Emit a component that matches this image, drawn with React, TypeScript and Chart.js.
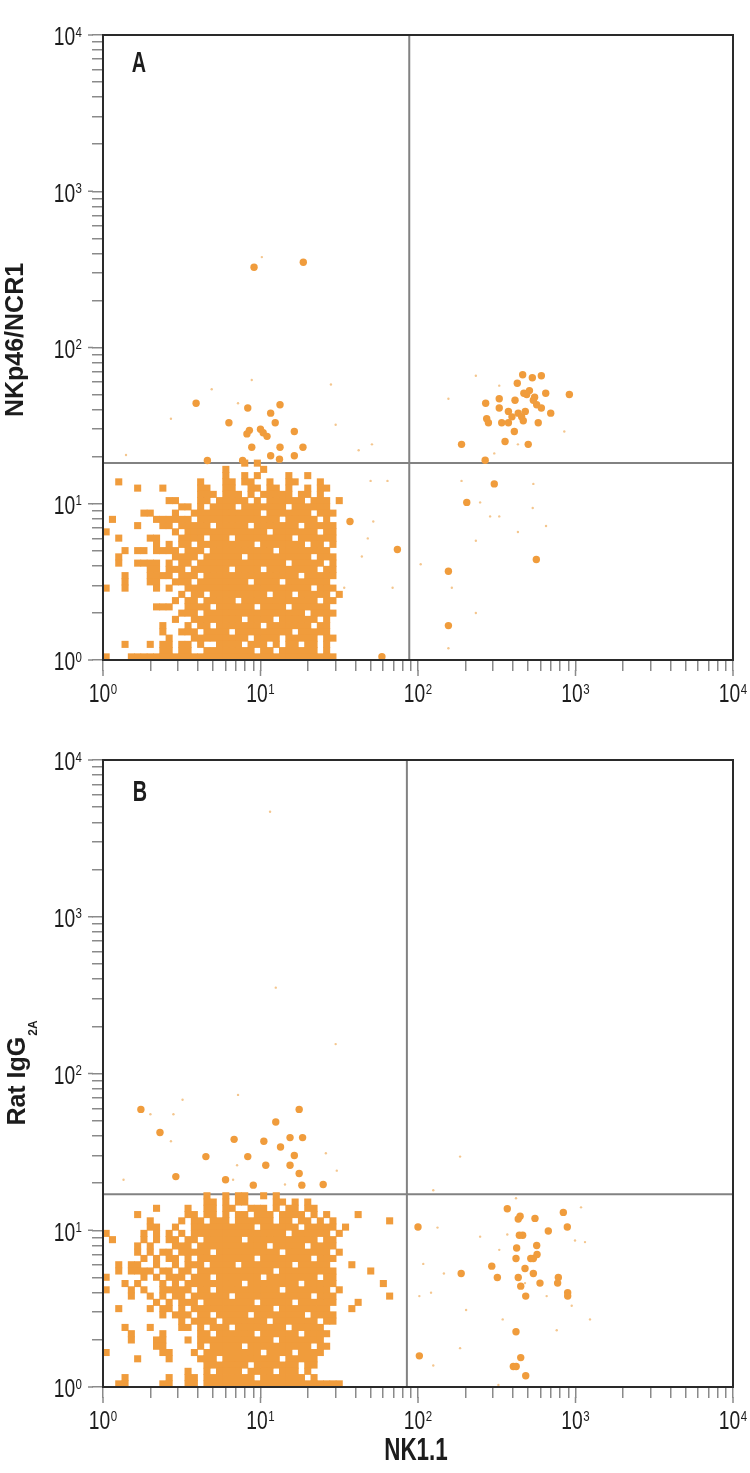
import React, { useEffect, useRef } from "react";
import { Chart, registerables } from "chart.js";

Chart.register(...registerables);

// ---------- styling constants ----------
const ORANGE = "#F09C3C";
const SPECK = "#F4C68E";
const FONT = "'Liberation Sans', Arial, sans-serif";

// ---------- axis ticks ----------
const DECADES = [1, 10, 100, 1000];
const MINOR_STEPS = [1, 2, 3, 4, 5, 6, 7, 8, 9];
const AXIS_MIN = 1;
const AXIS_MAX = 10000;
const TICK_VALUES: number[] = [];
DECADES.forEach((d) => MINOR_STEPS.forEach((m) => TICK_VALUES.push(m * d)));
TICK_VALUES.push(AXIS_MAX);

// ---------- density maps ----------
// each '#' is one occupied cell of CELL decades (x: columns, y: rows, top row first)
const CELL = 0.04;

const GRID_A = [
  ".......... .......... ..#.#..... ..........",
  ".......... .........# .....#.... ..........",
  ".......... .........# ..#.#....# ..#.......",
  "..#....... .....#...# #.##..#..# #...#.....",
  ".....#...# .....##..# #..##.##.# ..#.##....",
  ".......... .....###.# ##.#.##### .##.#.....",
  ".......... ##...##.## ###.#.#### ##.###.#..",
  ".......... ..##.#.### #.#######. ######....",
  "......##.. .#..###### #####.#### ###.###...",
  ".#......## ####.##### ########.# ####.#....",
  ".....#...# #.#####.## ###.###### #.#####...",
  "#......... .#.####### ######.### ####.##...",
  "..#....##. ..####.### .######### .######...",
  "........#. #.##.##### ####.##### ##.##.#...",
  "...#.##.## ##.###.### #######.## ######....",
  "..#....... .####.#### ##.####### ###.###...",
  "..#..####. #.##.##### #########. #####.#...",
  ".......##. ###.###### .####.#### ####.##...",
  "...#...### #.###.#### ########## #.#####...",
  "...#...##. .###.##### ###.####.# ######....",
  "#..#....#. #..####### ########## ###.###...",
  ".......... ..#.##.### ######.### .#####.#..",
  ".......... .#.##.#### #.######## ####.##...",
  "........## #..####.## ####.####. ######....",
  ".......... ..###.#### ########## ##.####...",
  ".......... .#..###### ##.####.## ####.#....",
  ".........# ...#.##.## #####.#### ###.##....",
  ".........# ..###.#### .######### .#####....",
  ".......... #...###### ###.####.# ####.##...",
  "...#...#.# #.##.#..## ##.###.#.# #.##.#....",
  ".........# #.##..#### ####.##.## ####.#....",
  "#...###### ########## ########## #######...",
];

const GRID_B = [
  ".......... ......#..# .##..#.#.. .......... ......",
  ".......... ......##.# .##....##. #.#....... ......",
  "........#. ...#..##.# #..###.#.# #.##...... ......",
  ".....#.... ...##.##.# .##.###.## ##.#.#.... #.....",
  ".......#.. ..#.##.### .######.## .##.#.#... .....#",
  ".......##. .#..###### ####.##### #.#####.#. ......",
  "#.....#.#. #.#.###### #########. ######.#.. ......",
  ".#....#.#. ##.##.#### ##.####### ####.##... ......",
  ".....#.#.. .###.##### ######.### ##.####... ......",
  ".....#.#.# #.#####.## ########.# ######.#.. ......",
  "......#.#. ##.#.##### ####.##### ###.###... ......",
  "..#.##..#. .#.###.### #.######## .#####...# ......",
  "..#.####.# #.##.##### #######.## #######... ..#...",
  "#.....#.#. ###.###.## #####.#### ####.##... ......",
  "...#.#...# .#.####### ##.####### #.#####... ....#.",
  "#...#.#..# ####.##.## ########.# ######.#.. ......",
  "....#..#.# .##.###### .######### ###.###... .....#",
  "........#. #.###.#### ####.##### .######... #.....",
  "..#....#.# #.#.###### #######.## ######...# ......",
  ".........# .###.##.## ###.###### ##.####... ......",
  ".......... ..#.####.# ######.### ####.##... ......",
  "...#...#.. ..##.#.### .########. #####..... ......",
  "....#....# .....##.## ####.##### #.####.... ......",
  "....#...## ...#.##### #######.## #####..... ......",
  "........## .....#.### ##.####### ###.##.... ......",
  "#........# #...#.#### #####.#### .####..... ......",
  ".....#.... #....###.# ########.# ####...... ......",
  ".......... ......#### ###.###### #.##...... ......",
  ".......... ...#..#.## ##.####.## #.#....... ......",
  "...#...... #..##.#### ####.##### ##.#...... ......",
  "..##.....# #..##.#### ########## ########.. ......",
];

// ---------- isolated events [x, y] ----------
const DOTS_A: number[][] = [
  [18.7, 351], [9.1, 326], [3.9, 44], [8.3, 41], [13.3, 43], [11.6, 38],
  [6.3, 33], [12.4, 33], [8.2, 28], [8.5, 29.5], [10, 30], [10.4, 28.5],
  [11, 27], [16.4, 29], [8.8, 23], [13.2, 19.3], [16.4, 20.3], [4.6, 18.9],
  [13.3, 23], [18.6, 23], [11.6, 20.3], [7.7, 18.9],
  [462, 67], [532, 64], [607, 66], [427, 59], [490, 50], [470, 51], [540, 46],
  [567, 43], [647, 51], [914, 50], [269, 44], [413, 46], [328, 41], [375, 39],
  [433, 38], [455, 36], [607, 41], [696, 38], [273, 35], [280, 33], [375, 33],
  [340, 33], [466, 34], [580, 33], [409, 29], [189, 24], [357, 25], [501, 24],
  [267, 19], [305, 13.4], [204, 10.2], [564, 4.4], [156, 3.7], [156, 1.66],
  [328, 47], [37, 7.7], [59, 1.05], [74, 5.1], [510, 53], [550, 48], [395, 36],
  [480, 39],
];

const SPECKS_A: number[][] = [
  [10.2, 379], [8.8, 62], [28, 58], [4.9, 54], [7.2, 44], [2.7, 35], [30, 32],
  [42, 22], [51, 24], [1.4, 20.5], [233, 66], [156, 47], [328, 57], [849, 29],
  [431, 24], [305, 21], [189, 14], [540, 13.4], [287, 8.3], [328, 8.3],
  [104, 4.1], [233, 5.8], [233, 2.0], [164, 2.9], [431, 6.6], [650, 7.2],
  [535, 9.4], [156, 1.19], [248, 10.2], [50, 14], [64, 14], [69, 2.9],
  [34, 2.9], [48, 6], [52, 7.7], [44, 4.6],
];

const DOTS_B: number[][] = [
  [17.6, 59], [12.5, 49], [2.3, 42], [6.8, 38], [10.5, 37], [13.4, 34],
  [18.5, 39], [15.4, 39], [4.5, 29.5], [8.3, 29.5], [16.4, 30], [10.8, 26],
  [15.4, 26], [17.6, 23], [2.9, 22], [6.0, 21], [9.0, 19.4], [18.3, 19.4],
  [25, 19.6], [1.74, 59],
  [369, 13.7], [433, 11.8], [445, 12.3], [553, 11.9], [837, 13], [887, 10.5],
  [672, 9.9], [100, 10.5], [462, 9.3], [440, 9.3], [423, 7.7], [567, 8.0],
  [540, 6.6], [520, 6.6], [570, 7.0], [419, 6.6], [294, 5.9], [478, 5.7],
  [188, 5.3], [540, 5.3], [319, 5.0], [433, 5.0], [778, 5.0], [770, 4.6],
  [595, 4.6], [449, 4.4], [892, 4.0], [892, 3.8], [483, 3.8], [419, 2.25],
  [102, 1.58], [449, 1.54], [403, 1.35], [420, 1.35], [483, 1.18],
];

const SPECKS_B: number[][] = [
  [11.5, 4680], [12.5, 353], [30, 154], [3.2, 68], [7.2, 73], [2.0, 55],
  [2.8, 55], [2.7, 37], [26, 31], [7.1, 26], [30.5, 24], [6.7, 21], [1.35, 21],
  [14.3, 19.6], [185, 29.5], [125, 18], [419, 16], [1084, 14], [133, 10.4],
  [248, 9.1], [369, 9.4], [993, 8.6], [1149, 8.4], [328, 7.5], [108, 6.1],
  [146, 5.3], [478, 4.6], [121, 4.0], [102, 3.8], [656, 3.8], [946, 3.3],
  [202, 3.1], [345, 2.7], [1236, 2.7], [760, 2.3], [185, 1.77], [125, 1.37],
  [324, 1.03],
];

// quadrant gates
const QUAD_A_X = 88;
const QUAD_A_Y = 18.2;
const QUAD_B_X = 85;
const QUAD_B_Y = 17;

// ---------- panel layout ----------
type PanelDef = {
  letter: string;
  yTitle: string;
  ySub: string;
  xTitle: string;
  grid: string[];
  gridWidths: number[];
  dots: number[][];
  specks: number[][];
  quadX: number;
  quadY: number;
  top: number;
  height: number;
  padding: { left: number; right: number; top: number; bottom: number };
  yTitleX: number;
  yTitleY: number;
  letterX: number;
  letterY: number;
  xTitleX: number;
  xTitleY: number;
};

const PANEL_A: PanelDef = {
  letter: "A",
  yTitle: "NKp46/NCR1",
  ySub: "",
  xTitle: "",
  grid: GRID_A,
  gridWidths: [10, 10, 10, 10],
  dots: DOTS_A,
  specks: SPECKS_A,
  quadX: QUAD_A_X,
  quadY: QUAD_A_Y,
  top: 0,
  height: 720,
  padding: { left: 103, right: 17, top: 35, bottom: 60 },
  yTitleX: 14,
  yTitleY: 340,
  letterX: 139,
  letterY: 61,
  xTitleX: 0,
  xTitleY: 0,
};

const PANEL_B: PanelDef = {
  letter: "B",
  yTitle: "Rat IgG",
  ySub: "2A",
  xTitle: "NK1.1",
  grid: GRID_B,
  gridWidths: [10, 10, 10, 10, 6],
  dots: DOTS_B,
  specks: SPECKS_B,
  quadX: QUAD_B_X,
  quadY: QUAD_B_Y,
  top: 720,
  height: 753,
  padding: { left: 103, right: 17, top: 40, bottom: 86 },
  yTitleX: 16,
  yTitleY: 353,
  letterX: 140,
  letterY: 70,
  xTitleX: 416,
  xTitleY: 728,
};

// ---------- helpers ----------
function gridToPoints(rows: string[], widths: number[]) {
  const pts: { x: number; y: number }[] = [];
  const n = rows.length;
  rows.forEach((row, i) => {
    const r = n - 1 - i;
    const groups = row.trim().split(/\s+/);
    let line = "";
    widths.forEach((w, g) => {
      line += (groups[g] || "").padEnd(w, ".").slice(0, w);
    });
    for (let c = 0; c < line.length; c++) {
      if (line[c] === "#") {
        pts.push({ x: Math.pow(10, (c + 0.5) * CELL), y: Math.pow(10, (r + 0.5) * CELL) });
      }
    }
  });
  return pts;
}

function widthOf(ctx: CanvasRenderingContext2D, text: string, font: string, sx: number) {
  ctx.save();
  ctx.font = font;
  const w = ctx.measureText(text).width * sx;
  ctx.restore();
  return w;
}

function drawScaled(
  ctx: CanvasRenderingContext2D,
  text: string,
  x: number,
  baseline: number,
  font: string,
  sx: number
) {
  ctx.save();
  ctx.font = font;
  ctx.translate(x, baseline);
  ctx.scale(sx, 1);
  ctx.textAlign = "left";
  ctx.textBaseline = "alphabetic";
  ctx.fillText(text, 0, 0);
  ctx.restore();
}

const LABEL_SIZE = 26;
const SUP_SIZE = 14;

function drawPower(
  ctx: CanvasRenderingContext2D,
  exp: string,
  anchorX: number,
  centerY: number,
  align: "center" | "right"
) {
  const bigFont = `${LABEL_SIZE}px ${FONT}`;
  const supFont = `${SUP_SIZE}px ${FONT}`;
  const sxBig = 0.74;
  const sxSup = 0.82;
  const w1 = widthOf(ctx, "10", bigFont, sxBig);
  const w2 = widthOf(ctx, exp, supFont, sxSup);
  const total = w1 + 0.5 + w2;
  const left = align === "center" ? anchorX - total / 2 : anchorX - total;
  const cap = LABEL_SIZE * 0.716;
  const base = centerY + cap / 2;
  drawScaled(ctx, "10", left, base, bigFont, sxBig);
  drawScaled(ctx, exp, left + w1 + 0.5, base - cap + SUP_SIZE * 0.716, supFont, sxSup);
}

function isDecade(v: number) {
  const l = Math.log10(v);
  return Math.abs(l - Math.round(l)) < 1e-9;
}

function makeChart(canvas: HTMLCanvasElement, panel: PanelDef) {
  const gridPts = gridToPoints(panel.grid, panel.gridWidths);
  const dots = panel.dots.map(([x, y]) => ({ x, y }));
  const specks = panel.specks.map(([x, y]) => ({ x, y }));

  const decorations = {
    id: "decorations",
    beforeDatasetsDraw(chart: any) {
      const { ctx, chartArea: a, scales } = chart;
      const qx = scales.x.getPixelForValue(panel.quadX);
      const qy = scales.y.getPixelForValue(panel.quadY);
      ctx.save();
      ctx.strokeStyle = "#828282";
      ctx.lineWidth = 2;
      ctx.beginPath();
      ctx.moveTo(qx, a.top);
      ctx.lineTo(qx, a.bottom);
      ctx.moveTo(a.left, qy);
      ctx.lineTo(a.right, qy);
      ctx.stroke();
      ctx.restore();
    },
    afterDraw(chart: any) {
      const { ctx, chartArea: a, scales } = chart;
      ctx.save();

      // longer marks at the decades
      ctx.strokeStyle = "#8a8a8a";
      ctx.lineWidth = 1.5;
      ctx.beginPath();
      scales.x.ticks.forEach((t: any) => {
        if (!isDecade(t.value)) return;
        const px = scales.x.getPixelForValue(t.value);
        ctx.moveTo(px, a.bottom + 10);
        ctx.lineTo(px, a.bottom + 16);
      });
      scales.y.ticks.forEach((t: any) => {
        if (!isDecade(t.value)) return;
        const py = scales.y.getPixelForValue(t.value);
        ctx.moveTo(a.left - 10, py);
        ctx.lineTo(a.left - 15, py);
      });
      ctx.stroke();

      // frame
      ctx.strokeStyle = "#2a2a2a";
      ctx.lineWidth = 2;
      ctx.strokeRect(a.left, a.top, a.right - a.left, a.bottom - a.top);

      ctx.fillStyle = "#1c1c1c";
      // tick labels
      scales.x.ticks.forEach((t: any) => {
        if (!isDecade(t.value)) return;
        const px = scales.x.getPixelForValue(t.value);
        drawPower(ctx, String(Math.round(Math.log10(t.value))), px, a.bottom + 33, "center");
      });
      scales.y.ticks.forEach((t: any) => {
        if (!isDecade(t.value)) return;
        const py = scales.y.getPixelForValue(t.value);
        drawPower(ctx, String(Math.round(Math.log10(t.value))), 82, py + 1, "right");
      });

      // y title (rotated)
      const mainFont = `bold 25px ${FONT}`;
      const subFont = `bold 12px ${FONT}`;
      const w1 = widthOf(ctx, panel.yTitle, mainFont, 1);
      const w2 = panel.ySub ? widthOf(ctx, panel.ySub, subFont, 1) : 0;
      const total = w1 + (panel.ySub ? w2 + 1 : 0);
      ctx.save();
      ctx.translate(panel.yTitleX, panel.yTitleY);
      ctx.rotate(-Math.PI / 2);
      const base = (25 * 0.716) / 2;
      drawScaled(ctx, panel.yTitle, -total / 2, base, mainFont, 1);
      if (panel.ySub) drawScaled(ctx, panel.ySub, -total / 2 + w1 + 1, base + 12, subFont, 1);
      ctx.restore();

      // panel letter
      const letterFont = `bold 30px ${FONT}`;
      const lw = widthOf(ctx, panel.letter, letterFont, 0.66);
      drawScaled(ctx, panel.letter, panel.letterX - lw / 2, panel.letterY + 10.7, letterFont, 0.66);

      // x title
      if (panel.xTitle) {
        const xFont = `bold 32px ${FONT}`;
        const xw = widthOf(ctx, panel.xTitle, xFont, 0.7);
        drawScaled(ctx, panel.xTitle, panel.xTitleX - xw / 2, panel.xTitleY + 11.5, xFont, 0.7);
      }
      ctx.restore();
    },
  };

  const axisCommon = {
    type: "logarithmic" as const,
    min: AXIS_MIN,
    max: AXIS_MAX,
    afterBuildTicks: (scale: any) => {
      scale.ticks = TICK_VALUES.map((v) => ({ value: v }));
    },
    ticks: { display: false },
    grid: {
      display: true,
      drawOnChartArea: false,
      drawTicks: true,
      tickLength: 11,
      color: "#8a8a8a",
      lineWidth: 1.5,
    },
    border: { display: false },
  };

  return new Chart(canvas, {
    type: "scatter",
    data: {
      datasets: [
        {
          data: gridPts,
          pointStyle: "rect",
          pointRadius: 5.0,
          pointBackgroundColor: ORANGE,
          pointBorderWidth: 0,
          clip: 0,
        },
        {
          data: dots,
          pointRadius: 3.7,
          pointBackgroundColor: ORANGE,
          pointBorderWidth: 0,
          clip: 0,
        },
        {
          data: specks,
          pointRadius: 1.2,
          pointBackgroundColor: SPECK,
          pointBorderWidth: 0,
          clip: 0,
        },
      ] as any,
    },
    options: {
      animation: false,
      responsive: false,
      events: [],
      layout: { padding: panel.padding },
      plugins: { legend: { display: false }, tooltip: { enabled: false } },
      scales: {
        x: {
          ...axisCommon,
          position: "bottom",
          afterFit: (s: any) => {
            s.height = 0;
          },
        },
        y: {
          ...axisCommon,
          position: "left",
          afterFit: (s: any) => {
            s.width = 0;
          },
        },
      } as any,
    },
    plugins: [decorations],
  });
}

function Panel({ panel }: { panel: PanelDef }) {
  const ref = useRef<HTMLCanvasElement>(null);
  useEffect(() => {
    if (!ref.current) return;
    const chart = makeChart(ref.current, panel);
    return () => chart.destroy();
  }, [panel]);
  return (
    <canvas
      ref={ref}
      width={750}
      height={panel.height}
      style={{ position: "absolute", left: 0, top: panel.top, width: 750, height: panel.height }}
    />
  );
}

export default function App() {
  return (
    <div
      style={{
        position: "absolute",
        left: 0,
        top: 0,
        width: 750,
        height: 1473,
        background: "#ffffff",
        overflow: "hidden",
      }}
    >
      <Panel panel={PANEL_A} />
      <Panel panel={PANEL_B} />
    </div>
  );
}
